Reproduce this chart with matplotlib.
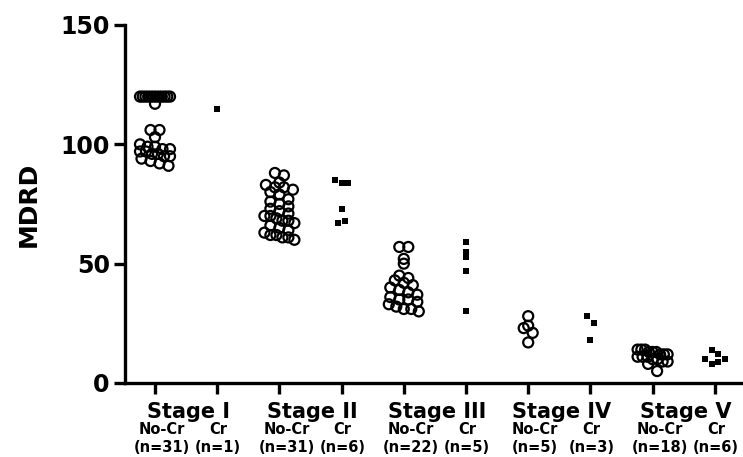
import numpy as np
import matplotlib
matplotlib.use("Agg")
import matplotlib.pyplot as plt

plt.rcParams["font.family"] = ["DejaVu Sans"]
plt.rcParams["font.weight"] = "bold"

# ---- data ----
stages = ["Stage I", "Stage II", "Stage III", "Stage IV", "Stage V"]
groups = ["No-Cr", "Cr"]
counts = [31, 1, 31, 6, 22, 5, 5, 3, 18, 6]

stage1_nocr = [120] * 12 + [117, 106, 106, 103, 100, 99, 99, 98, 98, 97, 97, 96, 96,
                             95, 95, 94, 93, 92, 91]
stage1_cr = [115]
stage2_nocr = [88, 87, 84, 83, 82, 82, 81, 80, 79, 77, 76, 75, 74, 73, 72, 71, 70, 70,
               69, 68, 68, 67, 66, 65, 64, 63, 62, 62, 61, 61, 60]
stage2_cr = [85, 84, 84, 73, 67, 68]
stage3_nocr = [57, 57, 52, 50, 45, 44, 43, 42, 41, 40, 39, 38, 37, 36, 35, 35, 34, 33,
               32, 31, 31, 30]
stage3_cr = [59, 55, 53, 47, 30]
stage4_nocr = [28, 24, 23, 21, 17]
stage4_cr = [28, 25, 18]
stage5_nocr = [14, 14, 14, 13, 13, 13, 12, 12, 12, 11, 11, 11, 10, 10, 9, 9, 8, 5]
stage5_cr = [14, 12, 10, 8, 9, 10]

series = [stage1_nocr, stage1_cr, stage2_nocr, stage2_cr, stage3_nocr, stage3_cr,
          stage4_nocr, stage4_cr, stage5_nocr, stage5_cr]

# ---- layout (pixels of the 743x457 output) ----
W, H = 743, 457
AX_L, AX_B, AX_T = 125, 383, 25
PX_PER_Y = (AX_B - AX_T) / 150.0
PX_PER_X = 62.2


def spread(vals, dx, binh=8.0, maxw=30.0):
    """prism-style scatter: values in the same row bin sit side by side"""
    vals = np.asarray(vals, float)
    b = np.floor((vals - vals.min()) * PX_PER_Y / binh).astype(int)
    offs = np.zeros(len(vals))
    for key in np.unique(b):
        idx = np.where(b == key)[0]
        n = len(idx)
        if n == 1:
            continue
        sp = min(dx, maxw / (n - 1))
        offs[idx] = (np.arange(n) - (n - 1) / 2) * sp
    return offs / PX_PER_X


fig = plt.figure(figsize=(W / 100, H / 100), dpi=100)
ax = fig.add_axes([AX_L / W, 1 - AX_B / H, (W - AX_L) / W, (AX_B - AX_T) / H])

pos = np.arange(1, len(series) + 1)
for k, vals in enumerate(series):
    if k % 2 == 0:
        x = pos[k] + spread(vals, 9.0)
        ax.scatter(x, vals, s=52, facecolors="none", edgecolors="black",
                   linewidths=1.6, clip_on=False, zorder=3)
    else:
        x = pos[k] + spread(vals, 6.5)
        ax.scatter(x, vals, s=14, marker="s", color="black", linewidths=0,
                   clip_on=False, zorder=3)

ax.set_xlim(1 - (155 - AX_L) / PX_PER_X, 1 + (W - 155) / PX_PER_X)
ax.set_ylim(0, 150)
ax.set_yticks([0, 50, 100, 150])
ax.set_yticklabels(["0", "50", "100", "150"], fontsize=17, fontweight="bold")
ax.set_xticks(pos)
ax.set_xticklabels([])
ax.tick_params(axis="both", length=8, width=2.4, direction="out", pad=3)
for side in ("top", "right"):
    ax.spines[side].set_visible(False)
for side in ("left", "bottom"):
    ax.spines[side].set_linewidth(2.4)
ax.set_ylabel("MDRD", fontsize=18, fontweight="bold", labelpad=14)

# category labels under the axis
for j, st in enumerate(stages):
    xc = (pos[2 * j] + pos[2 * j + 1]) / 2
    ax.annotate(st, xy=(xc, 0), xycoords=("data", "axes fraction"),
                xytext=(2, -29), textcoords="offset pixels",
                ha="center", va="center", fontsize=15, fontweight="bold")
for k in range(len(series)):
    dx = 7 if k % 2 == 0 else 1
    ax.annotate(groups[k % 2], xy=(pos[k], 0), xycoords=("data", "axes fraction"),
                xytext=(dx, -47), textcoords="offset pixels",
                ha="center", va="center", fontsize=10.5, fontweight="bold")
    ax.annotate(f"(n={counts[k]})", xy=(pos[k], 0), xycoords=("data", "axes fraction"),
                xytext=(dx, -64), textcoords="offset pixels",
                ha="center", va="center", fontsize=10.5, fontweight="bold")

fig.savefig("out.png", dpi=100)
